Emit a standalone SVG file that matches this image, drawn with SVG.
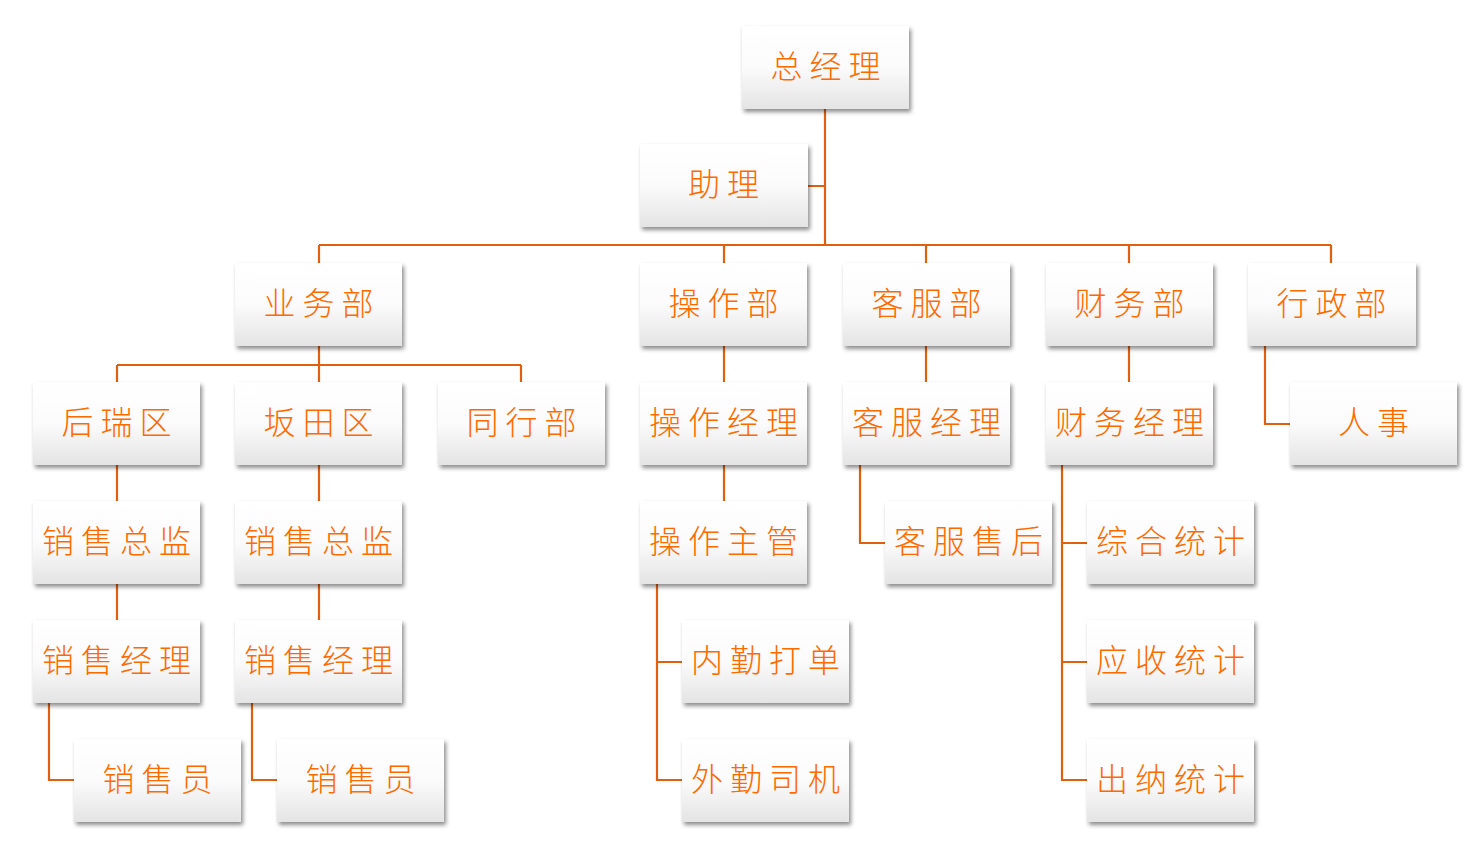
<svg xmlns="http://www.w3.org/2000/svg" width="1468" height="848" viewBox="0 0 1468 848">
<defs>
<linearGradient id="g" x1="0" y1="0" x2="0" y2="1">
<stop offset="0" stop-color="#ffffff"/>
<stop offset="0.5" stop-color="#fbfbfb"/>
<stop offset="1" stop-color="#e4e4e4"/>
</linearGradient>
<filter id="sh" x="-10%" y="-10%" width="125%" height="135%">
<feDropShadow dx="2" dy="3" stdDeviation="2" flood-color="#000" flood-opacity="0.45"/>
</filter>
<style>
.b{fill:url(#g);filter:url(#sh)}
.t{font-family:"Noto Sans CJK SC","Noto Sans CJK JP",sans-serif;font-size:32px;font-weight:300;fill:#FF6A00;text-anchor:middle;dominant-baseline:central;letter-spacing:7px}
.c{fill:none;stroke:#E0600F;stroke-width:2.2}
</style>
</defs>
<rect width="1468" height="848" fill="#fff"/>
<g id="connectors" class="c">
<path d="M825 108V245M808 186H825M319 245H1331M319 245V263M724 245V263M926 245V263M1129 245V263M1331 245V263"/>
<path d="M319 346V365M117 365H521M117 365V382M319 365V382M521 365V382"/>
<path d="M117 465V501M117 584V620M319 465V501M319 584V620"/>
<path d="M49 703V780H74M252 703V780H277"/>
<path d="M724 346V382M724 465V501M657 584V780H682M657 662H682"/>
<path d="M926 346V382M860 465V543H885"/>
<path d="M1129 346V382M1062 465V780H1087M1062 543H1087M1062 662H1087"/>
<path d="M1265 346V424H1290"/>
</g>
<g id="n1"><rect class="b" x="742" y="26" width="167" height="83"/><text class="t" x="829" y="64">总经理</text></g>
<g id="n2"><rect class="b" x="640" y="144" width="168" height="83"/><text class="t" x="727" y="182">助理</text></g>
<g id="n3"><rect class="b" x="235" y="263" width="167" height="83"/><text class="t" x="322" y="301">业务部</text></g>
<g id="n4"><rect class="b" x="640" y="263" width="167" height="83"/><text class="t" x="727" y="301">操作部</text></g>
<g id="n5"><rect class="b" x="843" y="263" width="167" height="83"/><text class="t" x="930" y="301">客服部</text></g>
<g id="n6"><rect class="b" x="1046" y="263" width="167" height="83"/><text class="t" x="1133" y="301">财务部</text></g>
<g id="n7"><rect class="b" x="1248" y="263" width="168" height="83"/><text class="t" x="1335" y="301">行政部</text></g>
<g id="n8"><rect class="b" x="33" y="382" width="167" height="83"/><text class="t" x="120" y="420">后瑞区</text></g>
<g id="n9"><rect class="b" x="235" y="382" width="167" height="83"/><text class="t" x="322" y="420">坂田区</text></g>
<g id="n10"><rect class="b" x="438" y="382" width="167" height="83"/><text class="t" x="525" y="420">同行部</text></g>
<g id="n11"><rect class="b" x="640" y="382" width="167" height="83"/><text class="t" x="727" y="420">操作经理</text></g>
<g id="n12"><rect class="b" x="843" y="382" width="167" height="83"/><text class="t" x="930" y="420">客服经理</text></g>
<g id="n13"><rect class="b" x="1046" y="382" width="167" height="83"/><text class="t" x="1133" y="420">财务经理</text></g>
<g id="n14"><rect class="b" x="1290" y="382" width="167" height="83"/><text class="t" x="1377" y="420">人事</text></g>
<g id="n15"><rect class="b" x="33" y="501" width="167" height="83"/><text class="t" x="120" y="539">销售总监</text></g>
<g id="n16"><rect class="b" x="235" y="501" width="167" height="83"/><text class="t" x="322" y="539">销售总监</text></g>
<g id="n17"><rect class="b" x="640" y="501" width="167" height="83"/><text class="t" x="727" y="539">操作主管</text></g>
<g id="n18"><rect class="b" x="885" y="501" width="167" height="83"/><text class="t" x="972" y="539">客服售后</text></g>
<g id="n19"><rect class="b" x="1087" y="501" width="167" height="83"/><text class="t" x="1174" y="539">综合统计</text></g>
<g id="n20"><rect class="b" x="33" y="620" width="167" height="83"/><text class="t" x="120" y="658">销售经理</text></g>
<g id="n21"><rect class="b" x="235" y="620" width="167" height="83"/><text class="t" x="322" y="658">销售经理</text></g>
<g id="n22"><rect class="b" x="682" y="620" width="167" height="83"/><text class="t" x="769" y="658">内勤打单</text></g>
<g id="n23"><rect class="b" x="1087" y="620" width="167" height="83"/><text class="t" x="1174" y="658">应收统计</text></g>
<g id="n24"><rect class="b" x="74" y="739" width="167" height="83"/><text class="t" x="161" y="777">销售员</text></g>
<g id="n25"><rect class="b" x="277" y="739" width="167" height="83"/><text class="t" x="364" y="777">销售员</text></g>
<g id="n26"><rect class="b" x="682" y="739" width="167" height="83"/><text class="t" x="769" y="777">外勤司机</text></g>
<g id="n27"><rect class="b" x="1087" y="739" width="167" height="83"/><text class="t" x="1174" y="777">出纳统计</text></g>
</svg>
